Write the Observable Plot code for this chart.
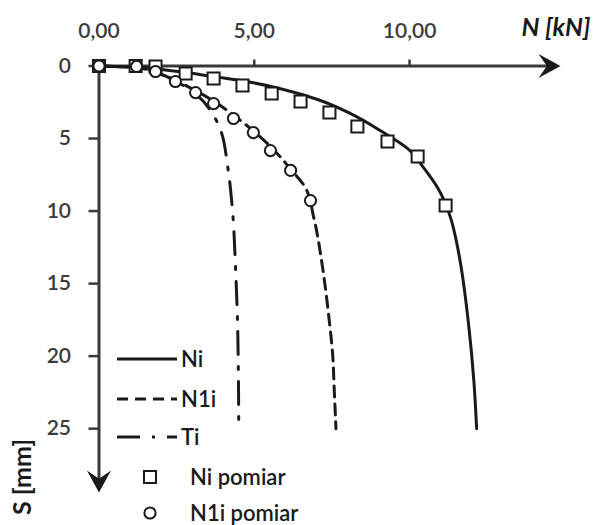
<!DOCTYPE html>
<html><head><meta charset="utf-8">
<script src="https://cdn.jsdelivr.net/npm/d3@7"></script>
<script src="https://cdn.jsdelivr.net/npm/@observablehq/plot@0.6"></script>
<style>
body{margin:0;background:#fff}
#chart{position:relative;width:597px;height:525px}
</style>
</head><body><div id="chart"></div>
<script>
// ---- data ----
const xTicks = [0, 5, 10];
const yTicks = [0, 5, 10, 15, 20, 25];
const xAxisMax = 14.86;   // N [kN] arrow end
const yAxisMax = 29.4;    // S [mm] arrow end
const xLabel = "N [kN]";
const yLabel = "S [mm]";
const seriesNames = ["Ni", "N1i", "Ti", "Ni pomiar", "N1i pomiar"];

// Ni (solid)
const niLineN = [0, 1.20, 1.85, 2.80, 3.75, 4.88, 5.94, 7.04, 8.10, 9.16, 9.94, 10.45, 10.90, 11.32, 11.50, 11.64, 11.90, 12.07, 12.16];
const niLineS = [0, 0.08, 0.20, 0.45, 0.75, 1.12, 1.62, 2.31, 3.28, 4.59, 5.69, 7.00, 8.38, 10.45, 12.0, 13.6, 17.8, 21.7, 25.0];
// N1i (dashed)
const n1iLineN = [0, 1.21, 1.82, 2.46, 3.11, 3.75, 4.40, 5.04, 5.59, 6.17, 6.65, 6.91, 7.20, 7.39, 7.52, 7.58, 7.63];
const n1iLineS = [0, 0.10, 0.45, 1.00, 1.70, 2.50, 3.50, 4.60, 5.70, 7.10, 8.40, 10.4, 13.9, 17.1, 19.8, 22.6, 25.0];
// Ti (dash-dot)
const tiLineN = [0, 1.20, 1.90, 2.60, 3.20, 3.60, 3.91, 4.14, 4.30, 4.40, 4.46, 4.49, 4.50];
const tiLineS = [0, 0.10, 0.50, 1.20, 2.10, 3.10, 4.40, 6.90, 10.0, 14.1, 17.6, 21.7, 25.0];
// Ni pomiar (squares)
const niMeasN = [0, 1.18, 1.82, 2.79, 3.69, 4.62, 5.56, 6.49, 7.42, 8.32, 9.29, 10.26, 11.16];
const niMeasS = [0, 0.00, 0.03, 0.52, 0.86, 1.34, 1.90, 2.45, 3.20, 4.17, 5.21, 6.24, 9.62];
// N1i pomiar (circles)
const n1iMeasN = [0, 1.21, 1.82, 2.46, 3.11, 3.69, 4.33, 4.97, 5.52, 6.17, 6.81];
const n1iMeasS = [0, 0.03, 0.38, 1.07, 1.83, 2.59, 3.62, 4.59, 5.83, 7.20, 9.28];

// ---- build tables ----
const toRows = (ns, ss) => ns.map((n, i) => ({n, s: ss[i]}));
const niLine = toRows(niLineN, niLineS);
const n1iLine = toRows(n1iLineN, n1iLineS);
const tiLine = toRows(tiLineN, tiLineS);
const niMeas = toRows(niMeasN, niMeasS);
const n1iMeas = toRows(n1iMeasN, n1iMeasS);

const arrowHead = {
  draw(ctx, size) {
    const r = Math.sqrt(size / Math.PI);
    const L = 2 * r, w = 1.1 * r;
    ctx.moveTo(0, 0);
    ctx.lineTo(w, L);
    ctx.lineTo(0, 0.62 * L);
    ctx.lineTo(-w, L);
    ctx.closePath();
  }
};

const FONT = "Lato, 'Open Sans', sans-serif";
const INK = "#1a1a1a";
const AX = "#3a3a3a";
const dashN1i = "11,7";
const dashTi = "23,12,3,12";

const chart = Plot.plot({
  width: 597,
  height: 525,
  marginLeft: 98.5,
  marginRight: 37,
  marginTop: 65.5,
  marginBottom: 33,
  style: {fontFamily: FONT, color: INK, background: "#fff", fontWeight: 600},
  x: {domain: [0, xAxisMax]},
  y: {domain: [0, yAxisMax], reverse: true},
  marks: [
    Plot.ruleY([0], {x1: 0, x2: xAxisMax * 0.985, stroke: AX, strokeWidth: 3}),
    Plot.ruleX([0], {y1: 0, y2: yAxisMax * 0.985, stroke: AX, strokeWidth: 3}),
    Plot.dot([{x: xAxisMax, y: 0}], {x: "x", y: "y", symbol: arrowHead, r: 11, rotate: 90, fill: INK, stroke: "none"}),
    Plot.dot([{x: 0, y: yAxisMax}], {x: "x", y: "y", symbol: arrowHead, r: 11, rotate: 180, fill: INK, stroke: "none"}),
    Plot.axisX(xTicks, {anchor: "top", tickSize: 7, tickPadding: 21, strokeWidth: 2.5, color: AX,
      tickFormat: d => d.toFixed(2).replace(".", ","), label: null, fontSize: 21}),
    Plot.axisY(yTicks, {anchor: "left", tickSize: 10, tickPadding: 18, strokeWidth: 2.5, color: AX,
      label: null, fontSize: 21}),
    Plot.line(tiLine, {x: "n", y: "s", curve: "monotone-y", stroke: INK, strokeWidth: 3, strokeDasharray: dashTi}),
    Plot.line(n1iLine, {x: "n", y: "s", curve: "monotone-y", stroke: INK, strokeWidth: 3, strokeDasharray: dashN1i}),
    Plot.line(niLine, {x: "n", y: "s", curve: "monotone-y", stroke: INK, strokeWidth: 3}),
    Plot.dot(niMeas, {x: "n", y: "s", symbol: "square", r: 6.8, fill: "#fff", stroke: INK, strokeWidth: 2}),
    Plot.dot(n1iMeas, {x: "n", y: "s", symbol: "circle", r: 5.6, fill: "#fff", stroke: INK, strokeWidth: 2})
  ]
});

document.getElementById("chart").appendChild(chart);

// ---- axis titles & legend ----
const svg = d3.select(chart);
svg.append("text").attr("x", 556).attr("y", 27).attr("text-anchor", "middle").attr("dy", "0.35em")
  .attr("font-family", FONT).attr("font-size", 25).attr("font-weight", "bold").attr("font-style", "italic")
  .attr("fill", INK).text(xLabel);
svg.append("text").attr("transform", "translate(22,477) rotate(-90)").attr("text-anchor", "middle").attr("dy", "0.35em")
  .attr("font-family", FONT).attr("font-size", 25).attr("font-weight", "bold")
  .attr("fill", INK).text(yLabel);

const lg = svg.append("g").attr("font-family", FONT).attr("font-size", 22).attr("font-weight", 600)
  .attr("fill", INK).attr("text-anchor", "start");
const lineItems = [
  {name: seriesNames[0], y: 359, dash: null},
  {name: seriesNames[1], y: 399, dash: dashN1i},
  {name: seriesNames[2], y: 437, dash: dashTi}
];
lineItems.forEach(it => {
  lg.append("line").attr("x1", 117).attr("x2", 177).attr("y1", it.y).attr("y2", it.y)
    .attr("stroke", INK).attr("stroke-width", 3).attr("stroke-dasharray", it.dash);
  lg.append("text").attr("x", 181).attr("y", it.y).attr("dy", "0.35em").text(it.name);
});
lg.append("rect").attr("x", 144).attr("y", 471).attr("width", 12).attr("height", 12)
  .attr("fill", "#fff").attr("stroke", INK).attr("stroke-width", 2);
lg.append("text").attr("x", 190).attr("y", 477).attr("dy", "0.35em").text(seriesNames[3]);
lg.append("circle").attr("cx", 150).attr("cy", 513).attr("r", 5.6)
  .attr("fill", "#fff").attr("stroke", INK).attr("stroke-width", 2);
lg.append("text").attr("x", 190).attr("y", 513).attr("dy", "0.35em").text(seriesNames[4]);
</script></body></html>
